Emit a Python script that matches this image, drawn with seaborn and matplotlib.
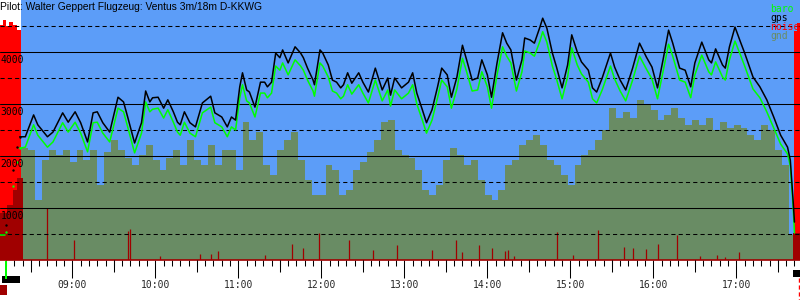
import numpy as np
import pandas as pd
import matplotlib
matplotlib.use("Agg")
import matplotlib.pyplot as plt
import matplotlib.transforms as mtransforms
import seaborn as sns

TITLE = "Pilot: Walter Geppert Flugzeug: Ventus 3m/18m D-KKWG"

# ---------------- data ----------------
track_time = [
    "08:12", "08:17", "08:20", "08:22", "08:26", "08:32", "08:35", "08:42", "08:46", "08:53",
    "08:57", "09:02", "09:06", "09:11", "09:15", "09:18", "09:22", "09:27", "09:33", "09:37",
    "09:40", "09:45", "09:50", "09:53", "09:56", "09:58", "10:02", "10:06", "10:09", "10:13",
    "10:16", "10:18", "10:21", "10:25", "10:29", "10:34", "10:40", "10:43", "10:48", "10:52",
    "10:55", "10:58", "11:01", "11:03", "11:06", "11:08", "11:12", "11:16", "11:19", "11:21",
    "11:24", "11:27", "11:30", "11:32", "11:36", "11:41", "11:45", "11:47", "11:50", "11:54",
    "11:55", "11:59", "12:01", "12:05", "12:08", "12:11", "12:14", "12:16", "12:19", "12:22",
    "12:27", "12:30", "12:34", "12:39", "12:44", "12:48", "12:50", "12:53", "12:58", "13:03",
    "13:06", "13:09", "13:13", "13:16", "13:20", "13:24", "13:27", "13:31", "13:34", "13:38",
    "13:42", "13:45", "13:49", "13:53", "13:56", "14:00", "14:03", "14:07", "14:11", "14:14",
    "14:17", "14:21", "14:25", "14:27", "14:31", "14:34", "14:38", "14:40", "14:43", "14:47",
    "14:50", "14:54", "14:58", "15:01", "15:05", "15:08", "15:13", "15:16", "15:19", "15:23",
    "15:29", "15:32", "15:36", "15:40", "15:45", "15:50", "15:55", "15:59", "16:03", "16:07",
    "16:11", "16:14", "16:19", "16:23", "16:27", "16:30", "16:35", "16:40", "16:42", "16:45",
    "16:50", "16:52", "16:55", "16:59", "17:03", "17:06", "17:12", "17:17", "17:22", "17:27",
    "17:32", "17:37", "17:39", "17:40", "17:41", "17:42"]

gps_alt = [
    670, 1730, 2170, 2370, 2370, 2790, 2600, 2370, 2460, 2830,
    2650, 2850, 2640, 2270, 2830, 2850, 2640, 2460, 3130, 3040,
    2750, 2250, 2640, 3250, 3040, 3120, 3130, 2920, 3080, 2850,
    2650, 2600, 2850, 2640, 2560, 3020, 3150, 2830, 2750, 2560,
    2750, 2690, 3330, 3600, 3270, 3230, 2940, 3420, 3420, 3330,
    3420, 3980, 3890, 4040, 3790, 4100, 3980, 3890, 3690, 3460,
    3370, 4040, 3980, 3750, 3460, 3420, 3310, 3370, 3600, 3400,
    3600, 3420, 3230, 3690, 3270, 3500, 3170, 3500, 3310, 3420,
    3600, 3210, 2890, 2640, 2890, 3330, 3690, 3560, 3130, 3520,
    4130, 3850, 3460, 3500, 3850, 3560, 3130, 3790, 4370, 4170,
    4040, 3460, 3850, 4270, 4230, 4170, 4480, 4650, 4460, 3980,
    3710, 3310, 3750, 4330, 4000, 3810, 3650, 3310, 3230, 3500,
    3980, 3710, 3460, 3270, 3690, 4170, 3900, 3710, 3310, 3850,
    4420, 4170, 3690, 3650, 3330, 3790, 4190, 3850, 3790, 4060,
    3750, 3690, 4100, 4480, 4190, 3980, 3520, 3330, 3080, 2750,
    2400, 2170, 1920, 1540, 1150, 730]

baro_alt = [
    540, 1420, 1890, 2150, 2170, 2600, 2400, 2170, 2270, 2640,
    2460, 2650, 2440, 2080, 2640, 2650, 2440, 2270, 2920, 2850,
    2560, 2060, 2440, 3040, 2850, 2900, 2920, 2730, 2890, 2650,
    2460, 2400, 2650, 2440, 2370, 2830, 2940, 2640, 2560, 2370,
    2560, 2500, 3120, 3370, 3060, 3020, 2750, 3210, 3210, 3120,
    3210, 3730, 3650, 3790, 3560, 3850, 3730, 3650, 3460, 3250,
    3150, 3790, 3730, 3520, 3250, 3210, 3100, 3150, 3370, 3190,
    3370, 3210, 3020, 3460, 3060, 3270, 2960, 3270, 3100, 3210,
    3370, 3000, 2690, 2440, 2690, 3120, 3460, 3330, 2920, 3290,
    3880, 3620, 3250, 3270, 3620, 3330, 2920, 3560, 4100, 3920,
    3790, 3250, 3620, 4020, 3980, 3920, 4210, 4390, 4190, 3730,
    3480, 3100, 3520, 4080, 3750, 3580, 3420, 3100, 3020, 3270,
    3730, 3480, 3250, 3060, 3460, 3920, 3670, 3480, 3100, 3620,
    4150, 3920, 3460, 3420, 3120, 3560, 3940, 3620, 3560, 3810,
    3520, 3460, 3850, 4210, 3940, 3730, 3290, 3120, 2850, 2540,
    2230, 2040, 1810, 1420, 1040, 520]

pre_takeoff_time = ["08:08", "08:11"]
pre_takeoff_baro = [480, 480]
climb_points = 4          # first samples of the track = winch/tow climb (drawn as dots)

gnd_start = "08:23"
gnd_step_min = 5
gnd_alt = [
    2150, 2120, 1150, 1920, 2120, 2020, 2120, 1880, 2120, 1920,
    2120, 1440, 2080, 2310, 2120, 1960, 1830, 2020, 2210, 1920,
    1730, 1960, 2120, 1830, 2310, 1920, 1830, 2210, 1830, 2120,
    2120, 1730, 2650, 2310, 2460, 1830, 1630, 2120, 2310, 2460,
    1920, 1540, 1250, 1250, 1830, 1730, 1250, 1350, 1730, 1880,
    2080, 2310, 2650, 2690, 2120, 2020, 1960, 1730, 1350, 1250,
    1440, 1920, 2150, 2020, 1830, 1920, 1540, 1250, 1150, 1350,
    1830, 1920, 2210, 2310, 2400, 2210, 1920, 1830, 1630, 1440,
    1830, 2020, 2120, 2310, 2500, 2920, 2730, 2850, 2730, 3080,
    2980, 2880, 2690, 2790, 2920, 2730, 2600, 2690, 2600, 2730,
    2500, 2650, 2540, 2600, 2540, 2400, 2310, 2600, 2500, 2120,
    1830, 480]

noise_time = ["08:42", "09:01", "09:40", "09:42", "10:03", "10:32", "10:40", "10:45",
              "11:19", "11:39", "11:47", "11:58", "12:20", "12:37", "12:55", "13:20",
              "13:37", "13:42", "13:54", "14:03", "14:13", "14:15", "14:19", "14:50",
              "15:02", "15:20", "15:39", "15:45", "15:55", "16:03", "16:17", "16:34",
              "16:46", "16:52", "17:02"]
noise_alt = [1000, 385, 560, 600, 80, 115, 115, 175,
             95, 310, 230, 520, 385, 190, 290, 190,
             385, 155, 290, 230, 175, 190, 80, 540,
             95, 580, 250, 230, 210, 310, 480, 80,
             95, 60, 155]

engine_time_start = ["08:07", "08:10", "08:12", "08:14", "08:17", "08:20", "08:23"]
engine_alt_start = [4520, 4610, 4500, 4580, 4520, 4420, 4420]
engine_time_end = ["17:42", "17:44", "17:47"]
engine_alt_end = [4400, 4560, 4560]
low_noise_time_start = ["08:07", "08:13", "08:17", "08:20", "08:24"]
low_noise_alt_start = [900, 1060, 1350, 1580, 1580]
low_noise_time_end = ["17:41", "17:47"]
low_noise_alt_end = [520, 520]

sky_start = "08:23"
hour_ticks = [9, 10, 11, 12, 13, 14, 15, 16, 17]
y_labels = [1000, 2000, 3000, 4000]
solid_levels = [1000, 2000, 3000, 4000]
dashed_levels = [500, 1500, 2500, 3500, 4500]

# ---------------- colours ----------------
SKY = "#5c9df8"
GND = "#698c64"
RED = "#ff0000"
DARKRED = "#a00000"
BARO = "#00ff00"


def to_min(s):
    h, m = s.split(":")
    return int(h) * 60 + int(m)


sns.set_theme(style="white")
plt.rcParams["font.family"] = ["DejaVu Sans Mono"]

fig = plt.figure(figsize=(8, 3), dpi=100)
fig.patch.set_facecolor("white")
ax = fig.add_axes([0, 40 / 300, 1, 260 / 300])
ax.set_xlim(487.7, 1066.0)
ax.set_ylim(0, 5000)
ax.set_facecolor("white")
for s in ["top", "left", "right"]:
    ax.spines[s].set_visible(False)
ax.spines["bottom"].set_color(DARKRED)
ax.spines["bottom"].set_linewidth(1.2)

# sky background
ax.axvspan(to_min(sky_start), 1070, color=SKY, lw=0, zorder=0)

# ground profile
gnd_t = to_min(gnd_start) + gnd_step_min * np.arange(len(gnd_alt))
ax.bar(gnd_t, gnd_alt, width=gnd_step_min, align="edge", color=GND, lw=0, zorder=1)

# engine noise blocks
for tt, vv in [(engine_time_start, engine_alt_start), (engine_time_end, engine_alt_end)]:
    ax.fill_between([to_min(t) for t in tt], 0, vv, step="post", color=RED, lw=0, zorder=1.5)
for tt, vv in [(low_noise_time_start, low_noise_alt_start), (low_noise_time_end, low_noise_alt_end)]:
    ax.fill_between([to_min(t) for t in tt], 0, vv, step="post", color=DARKRED, lw=0, zorder=1.6)

# noise spikes
ax.vlines([to_min(t) for t in noise_time], 0, noise_alt, color=DARKRED, lw=0.9, zorder=2)

# grid
for lv in solid_levels:
    ax.axhline(lv, color="black", lw=0.75, zorder=3)
for lv in dashed_levels:
    ax.axhline(lv, color="black", lw=0.75, ls=(0, (4, 3)), zorder=3)

# track
df = pd.DataFrame({"t": [to_min(t) for t in track_time], "gps": gps_alt, "baro": baro_alt})
flight = df.iloc[climb_points - 1:]
climb = df.iloc[:climb_points]
sns.lineplot(data=flight, x="t", y="baro", color=BARO, lw=1.1, ax=ax, sort=False,
             estimator=None, zorder=4)
sns.lineplot(data=flight, x="t", y="gps", color="black", lw=1.1, ax=ax, sort=False,
             estimator=None, zorder=5)
sns.scatterplot(data=climb, x="t", y="baro", color=BARO, s=3, lw=0, ax=ax, zorder=4)
sns.scatterplot(data=climb, x="t", y="gps", color="black", s=3, lw=0, ax=ax, zorder=5)
pre = pd.DataFrame({"t": [to_min(t) for t in pre_takeoff_time], "baro": pre_takeoff_baro})
sns.lineplot(data=pre, x="t", y="baro", color=BARO, lw=1.1, ax=ax, zorder=4)

ax.set_xlabel("")
ax.set_ylabel("")

# y labels drawn inside plot
ytr = mtransforms.blended_transform_factory(ax.transAxes, ax.transData)
for v in y_labels:
    ax.text(0.001, v - 50, str(v), transform=ytr, ha="left", va="top",
            fontsize=7, color="black", zorder=6)
ax.set_yticks([])

# x ticks
ax.set_xticks([h * 60 for h in hour_ticks])
ax.set_xticklabels([f"{h:02d}:00" for h in hour_ticks])
minor = [m for m in range(492, 1066, 6) if m % 60 != 0]
ax.set_xticks(minor, minor=True)
ax.tick_params(axis="x", which="major", length=13, width=0.75, color="black",
               direction="out", labelsize=7, pad=1.5, bottom=True)
ax.tick_params(axis="x", which="minor", length=4.3, width=0.75, color="black",
               direction="out", bottom=True)
half = [h * 60 + 30 for h in range(8, 18)]
ax.vlines(half, 0, -12 / 260, transform=ax.get_xaxis_transform(), color="black",
          lw=0.75, clip_on=False, zorder=6)

# little status marks below the axis
xtr = ax.get_xaxis_transform()
ax.add_patch(plt.Rectangle((to_min("08:09"), -16 / 260), 13.5, -7 / 260, transform=xtr,
                           color="black", clip_on=False, lw=0))
ax.add_patch(plt.Rectangle((to_min("08:11") + 0.5, -1 / 260), 1.5, -18 / 260, transform=xtr,
                           color=BARO, clip_on=False, lw=0))
ax.add_patch(plt.Rectangle((487.7, -25 / 260), 5, -10 / 260, transform=xtr,
                           color=DARKRED, clip_on=False, lw=0))
ax.add_patch(plt.Rectangle((to_min("17:41"), -10 / 260), 6, -7 / 260, transform=xtr,
                           color="black", clip_on=False, lw=0))
ax.vlines([1065.3], -18 / 260, -40 / 260, transform=xtr, color=RED, lw=1,
          ls=(0, (3, 2)), clip_on=False)

# title and legend
fig.text(0.0, 1 - 1.5 / 300, TITLE, ha="left", va="top", fontsize=7.4,
         family=["Liberation Sans", "DejaVu Sans"], color="black")
for i, (lab, col) in enumerate([("baro", BARO), ("gps", "black"), ("noise", RED), ("gnd", GND)]):
    fig.text(770 / 800, 1 - (4 + 9 * i) / 300, lab, ha="left", va="top", fontsize=7,
             color=col)

fig.savefig("out.png", dpi=100)
